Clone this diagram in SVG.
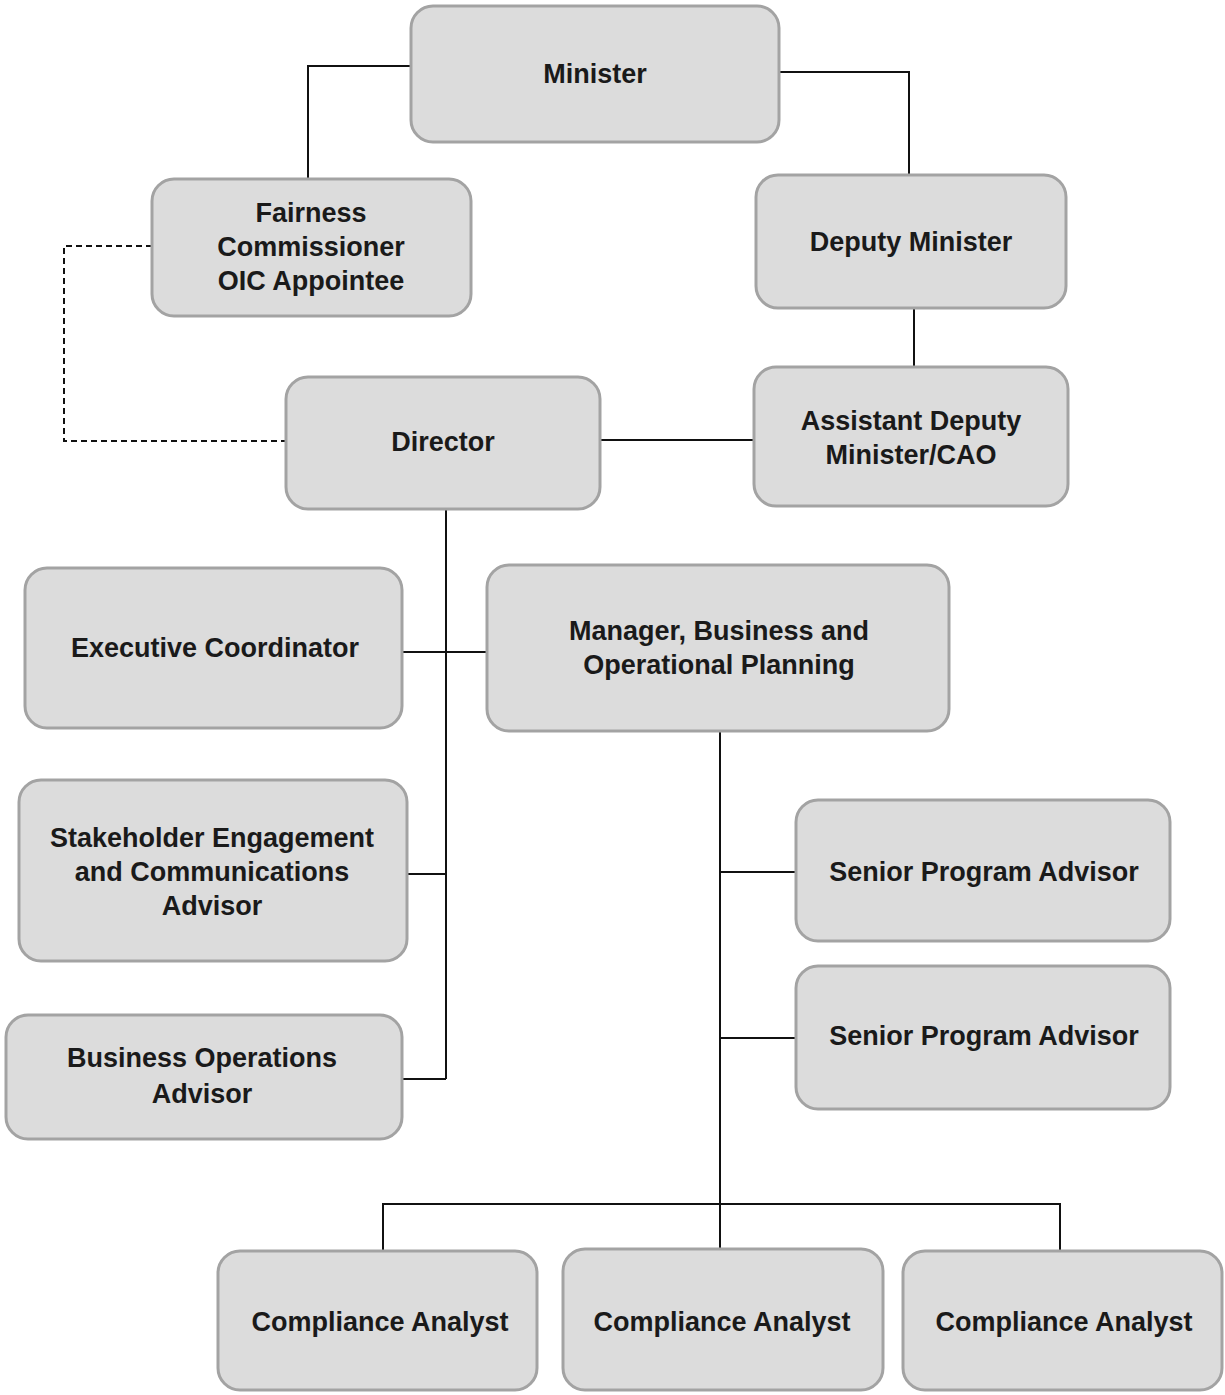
<svg xmlns="http://www.w3.org/2000/svg" width="1225" height="1395" viewBox="0 0 1225 1395">
<style>
.box{fill:#dcdcdc;stroke:#a3a3a3;stroke-width:3}
.t{font-family:"Liberation Sans Narrow","Arial Narrow","Liberation Sans",Arial,sans-serif;font-weight:bold;font-size:27px;fill:#1a1a1a;text-anchor:middle;dominant-baseline:central}
.c{fill:none;stroke:#111;stroke-width:2}
.d{fill:none;stroke:#111;stroke-width:2;stroke-dasharray:6,4}
</style>
<rect width="1225" height="1395" fill="#fff"/>
<g id="connectors">
<path class="c" d="M411,66H308V179"/>
<path class="c" d="M779,72H909V175"/>
<path class="c" d="M914,308V367"/>
<path class="c" d="M600,440H754"/>
<path class="d" d="M152,246H64V441H286"/>
<path class="c" d="M446,509V1079"/>
<path class="c" d="M402,652H487"/>
<path class="c" d="M407,874H446"/>
<path class="c" d="M402,1079H446"/>
<path class="c" d="M720,731V1249"/>
<path class="c" d="M720,872H796"/>
<path class="c" d="M720,1038H796"/>
<path class="c" d="M383,1251V1204H1060V1251"/>
</g>
<g id="minister"><rect class="box" x="411" y="6" width="368" height="136" rx="22"/><text class="t" x="595" y="74">Minister</text></g>
<g id="fairness"><rect class="box" x="152" y="179" width="319" height="137" rx="22"/><text class="t" x="311" y="213">Fairness</text><text class="t" x="311" y="247">Commissioner</text><text class="t" x="311" y="281">OIC Appointee</text></g>
<g id="deputy"><rect class="box" x="756" y="175" width="310" height="133" rx="22"/><text class="t" x="911" y="242">Deputy Minister</text></g>
<g id="adm"><rect class="box" x="754" y="367" width="314" height="139" rx="22"/><text class="t" x="911" y="421">Assistant Deputy</text><text class="t" x="911" y="455">Minister/CAO</text></g>
<g id="director"><rect class="box" x="286" y="377" width="314" height="132" rx="22"/><text class="t" x="443" y="442">Director</text></g>
<g id="exec"><rect class="box" x="25" y="568" width="377" height="160" rx="22"/><text class="t" x="215" y="648">Executive Coordinator</text></g>
<g id="manager"><rect class="box" x="487" y="565" width="462" height="166" rx="22"/><text class="t" x="719" y="631">Manager, Business and</text><text class="t" x="719" y="665">Operational Planning</text></g>
<g id="stakeholder"><rect class="box" x="19" y="780" width="388" height="181" rx="22"/><text class="t" x="212" y="838">Stakeholder Engagement</text><text class="t" x="212" y="872">and Communications</text><text class="t" x="212" y="906">Advisor</text></g>
<g id="busops"><rect class="box" x="6" y="1015" width="396" height="124" rx="22"/><text class="t" x="202" y="1058">Business Operations</text><text class="t" x="202" y="1094">Advisor</text></g>
<g id="spa1"><rect class="box" x="796" y="800" width="374" height="141" rx="22"/><text class="t" x="984" y="872">Senior Program Advisor</text></g>
<g id="spa2"><rect class="box" x="796" y="966" width="374" height="143" rx="22"/><text class="t" x="984" y="1036">Senior Program Advisor</text></g>
<g id="ca1"><rect class="box" x="218" y="1251" width="319" height="139" rx="22"/><text class="t" x="380" y="1322">Compliance Analyst</text></g>
<g id="ca2"><rect class="box" x="563" y="1249" width="320" height="141" rx="22"/><text class="t" x="722" y="1322">Compliance Analyst</text></g>
<g id="ca3"><rect class="box" x="903" y="1251" width="319" height="139" rx="22"/><text class="t" x="1064" y="1322">Compliance Analyst</text></g>
</svg>
